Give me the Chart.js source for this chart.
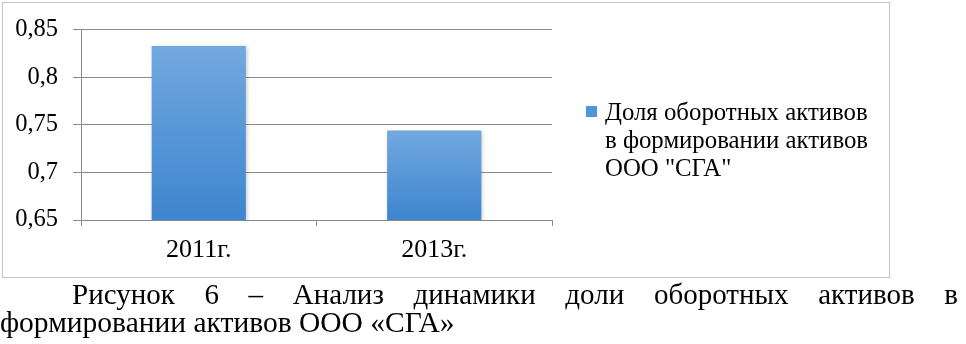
<!DOCTYPE html>
<html>
<head>
<meta charset="utf-8">
<script src="https://cdn.jsdelivr.net/npm/chart.js@4/dist/chart.umd.min.js"></script>
<style>
  body { margin: 0; width: 966px; height: 344px; background: #fff; position: relative; overflow: hidden;
         font-family: "Liberation Serif", "Times New Roman", serif; color: #000; }
  #wrap { position: absolute; left: 0; top: 0; width: 890px; height: 279px; }
  #frame { position: absolute; left: 2px; top: 2px; width: 886px; height: 274px; border: 1px solid #c4c4c4; pointer-events: none; }
  #legend { position: absolute; left: 586px; top: 98px; font-size: 24.8px; line-height: 28px; }
  #legend .box { position: absolute; left: 0; top: 8px; width: 11px; height: 11px; background: #4f95da; }
  #legend .txt { margin-left: 19px; }
  .cap1 { position: absolute; left: 72px; top: 280px; width: 886px; font-size: 29px; line-height: 28px;
          text-align: justify; text-align-last: justify; white-space: nowrap; }
  .cap2 { position: absolute; left: 0; top: 308px; font-size: 29.5px; line-height: 28px; white-space: nowrap; }
</style>
</head>
<body>
<div id="wrap"><canvas id="chart" width="890" height="279"></canvas></div>
<div id="frame"></div>
<div id="legend"></div>
<div class="cap1" id="cap1"></div>
<div class="cap2" id="cap2"></div>
<script>
// данные графика
const categories = ['2011г.', '2013г.'];
const shareValues = [0.833, 0.744];
const seriesName = ['Доля оборотных активов', 'в формировании активов', 'ООО "СГА"'];
const yMin = 0.65, yMax = 0.85, yStep = 0.05;
const captionLines = ['Рисунок 6 – Анализ динамики доли оборотных активов в', 'формировании активов ООО «СГА»'];

const serif = "'Liberation Serif', 'Times New Roman', serif";
const gridColor = '#8a8a8a';

// градиент на каждый столбик, как в Excel
function barGradient(ctx) {
    const chart = ctx.chart;
    if (!chart.chartArea || ctx.dataIndex === undefined) return '#4f95da';
    const y = chart.scales.y;
    const top = y.getPixelForValue(shareValues[ctx.dataIndex]);
    const bottom = y.getPixelForValue(yMin);
    const g = chart.ctx.createLinearGradient(0, top, 0, bottom);
    g.addColorStop(0, '#72a8df');
    g.addColorStop(1, '#3d85ce');
    return g;
}

// лёгкая тень у столбиков
const barShadow = {
    id: 'barShadow',
    beforeDatasetsDraw(chart) {
        const c = chart.ctx;
        c.save();
        c.shadowColor = 'rgba(0,0,0,0.22)';
        c.shadowBlur = 4;
        c.shadowOffsetX = 1;
        c.shadowOffsetY = 1;
    },
    afterDatasetsDraw(chart) { chart.ctx.restore(); }
};

new Chart(document.getElementById('chart'), {
    type: 'bar',
    data: {
        labels: categories,
        datasets: [{
            label: seriesName.join(' '),
            data: shareValues,
            backgroundColor: barGradient,
            borderWidth: 0,
            categoryPercentage: 0.8,
            barPercentage: 0.5
        }]
    },
    options: {
        responsive: false,
        animation: false,
        layout: { padding: { top: 25, right: 338, left: 0, bottom: 0 } },
        plugins: { legend: { display: false }, tooltip: { enabled: false } },
        scales: {
            x: {
                grid: { drawOnChartArea: false, drawTicks: true, tickLength: 6, color: gridColor, offset: true },
                border: { color: gridColor },
                ticks: { color: '#000', padding: 9, font: { family: serif, size: 26 } },
                afterFit: s => { s.height = 59; }
            },
            y: {
                min: yMin, max: yMax,
                grid: { color: gridColor, tickLength: 8 },
                border: { color: gridColor },
                ticks: {
                    stepSize: yStep, color: '#000', padding: 15,
                    font: { family: serif, size: 24.5 },
                    callback: v => String(Math.round(v * 100) / 100).replace('.', ',')
                },
                afterFit: s => { s.width = 81; }
            }
        }
    },
    plugins: [barShadow]
});

// легенда справа
const legend = document.getElementById('legend');
legend.innerHTML = '<div class="box"></div><div class="txt"></div>';
legend.querySelector('.txt').innerHTML = seriesName.map(s => s.replace(/</g, '&lt;')).join('<br>');

document.getElementById('cap1').textContent = captionLines[0];
document.getElementById('cap2').textContent = captionLines[1];
</script>
</body>
</html>
